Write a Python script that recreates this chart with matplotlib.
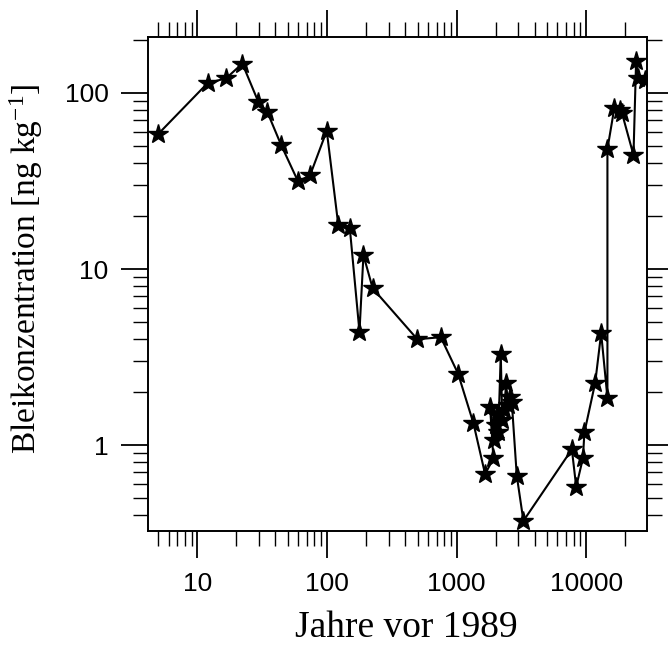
import matplotlib
matplotlib.use("Agg")
import matplotlib.pyplot as plt
from matplotlib.ticker import LogLocator, FixedLocator, FixedFormatter, NullFormatter

# Data (years before 1989, lead concentration ng/kg)
jahre = [4.98, 12.0, 16.6, 22.2, 29.5, 34.6, 44.2, 59.7, 73.9, 99.5,
         122, 150, 178, 191, 225, 498, 755, 1028, 1349, 1660,
         1924, 1815, 1950, 2010, 2040, 2100, 2193, 2250, 2330, 2411,
         2500, 2587, 2667, 2915, 3280, 7760, 8380, 9440, 9700, 11750,
         13060, 14600, 14600, 16500, 18300, 18900, 23200, 24300, 25300, 28500]
blei = [58.5, 114, 121, 147, 89, 78, 50.7, 31.5, 34, 61,
        17.9, 17.0, 4.4, 12.0, 7.77, 3.99, 4.1, 2.54, 1.33, 0.684,
        0.84, 1.64, 1.07, 1.30, 1.48, 1.19, 3.29, 1.39, 1.58, 2.24,
        1.69, 1.88, 1.76, 0.67, 0.371, 0.945, 0.58, 0.84, 1.18, 2.26,
        4.32, 1.86, 48, 82, 80, 77, 44.4, 151, 121, 118]

x_ticks = [10, 100, 1000, 10000]
x_ticklabels = ["10", "100", "1000", "10000"]
y_ticks = [1, 10, 100]
y_ticklabels = ["1", "10", "100"]

fig = plt.figure(figsize=(6.68, 6.70), dpi=100)
ax = fig.add_axes([148/668, 1-531/670, (647-148)/668, (531-37)/670])

ax.plot(jahre, blei, color="black", lw=1.5, marker="*", ms=15,
        mfc="black", mec="black")

ax.set_xscale("log")
ax.set_yscale("log")
ax.set_xlim(4.15, 29500)
ax.set_ylim(0.325, 208)

ax.xaxis.set_major_locator(FixedLocator(x_ticks))
ax.xaxis.set_major_formatter(FixedFormatter(x_ticklabels))
ax.xaxis.set_minor_locator(LogLocator(base=10, subs=range(2, 10), numticks=20))
ax.xaxis.set_minor_formatter(NullFormatter())
ax.yaxis.set_major_locator(FixedLocator(y_ticks))
ax.yaxis.set_major_formatter(FixedFormatter(y_ticklabels))
ax.yaxis.set_minor_locator(LogLocator(base=10, subs=range(2, 10), numticks=20))
ax.yaxis.set_minor_formatter(NullFormatter())

ax.tick_params(which="both", direction="out", top=True, right=True,
               labeltop=False, labelright=False)
ax.tick_params(which="major", length=19.5, width=1.3)
ax.tick_params(which="minor", length=10.5, width=1.0)
ax.tick_params(axis="x", which="major", pad=10)
ax.tick_params(axis="y", which="major", pad=9)
for lab in ax.get_xticklabels() + ax.get_yticklabels():
    lab.set_fontfamily("Liberation Sans")
    lab.set_fontsize(19)
for s in ax.spines.values():
    s.set_linewidth(1.4)

plt.rcParams["mathtext.default"] = "regular"
fig.text(406/668, 1-628/670, "Jahre vor 1989", family="Liberation Serif",
         fontsize=27, ha="center", va="center")
fig.text(26/668, 1-269/670, "Bleikonzentration [ng kg$^{-1}$]",
         family="Liberation Serif", fontsize=24, rotation=90,
         ha="center", va="center")

fig.savefig("out.png", dpi=100)
